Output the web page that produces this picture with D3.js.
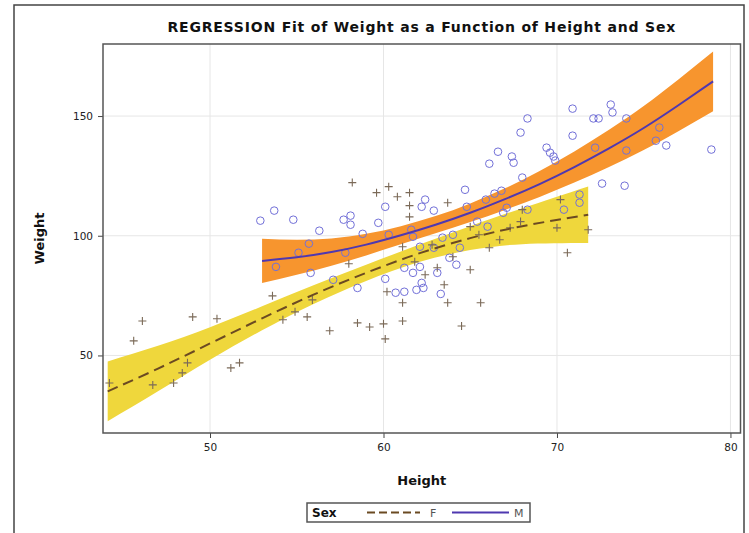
<!DOCTYPE html>
<html>
<head>
<meta charset="utf-8">
<script src="https://cdn.jsdelivr.net/npm/d3@7"></script>
<style>
  body { margin: 0; background: #fff; }
  svg { font-family: "DejaVu Sans", Verdana, sans-serif; }
  .grid line { stroke: #e6e6e6; stroke-width: 1; }
</style>
</head>
<body>
<svg id="chart" width="749" height="533"></svg>
<script>
// fit curves
const mX = [53, 55, 57, 59, 61, 63, 65, 67, 69, 71, 73, 75, 77, 79];
const mFit = [89.5, 91, 93.2, 96.3, 100.2, 104.6, 109.6, 115.3, 121.6, 128.7, 136.5, 145, 154.5, 164.5];
const mLo = [80.3, 83.7, 87.5, 91.8, 96.4, 101.0, 105.7, 110.8, 116.2, 122.2, 128.7, 135.8, 143.7, 152.0];
const mHi = [98.7, 98.3, 98.9, 100.8, 104.0, 108.2, 113.5, 119.8, 127.0, 135.2, 144.3, 154.2, 165.3, 177.0];

const fX = [44.1, 47, 50, 53, 56, 59, 62, 65, 68, 71.8];
const fFit = [35, 44.5, 55, 65.5, 75.5, 84.5, 92.5, 99, 104, 108.8];
const fLo = [22.5, 35.0, 48.2, 60.5, 71.6, 81.1, 88.9, 94.0, 96.5, 97.0];
const fHi = [47.5, 54.0, 61.8, 70.5, 79.4, 87.9, 96.1, 104.0, 111.5, 120.6];

// observations [height, weight]
const females = [
  [44.2, 38.5], [45.6, 56.1], [46.1, 64.4], [46.7, 37.7], [47.9, 38.5], [48.4, 42.7], [48.7, 46.9],
  [49.0, 66.1], [50.4, 65.3], [51.2, 44.8], [51.7, 46.9], [53.6, 74.9], [54.2, 64.9], [54.9, 68.2],
  [55.6, 66.1], [55.9, 73.2], [56.9, 60.3], [58.0, 88.3], [58.5, 63.6], [59.2, 61.9], [60.0, 63.2],
  [60.1, 56.9], [61.1, 64.4], [60.2, 76.6], [61.1, 72.0], [58.2, 122.2], [59.6, 118.0], [60.3, 120.5],
  [60.8, 116.3], [61.5, 118.0], [61.5, 112.6], [61.5, 107.9], [63.7, 113.8], [68.0, 110.9], [70.2, 115.1],
  [70.0, 103.3], [71.8, 102.5], [67.9, 105.9], [63.7, 72.0], [65.6, 72.0], [64.5, 62.3], [70.6, 92.9],
  [66.1, 95.0], [64.0, 91.2], [61.1, 95.4], [65.0, 103.8], [61.8, 89.1], [62.4, 83.7], [63.1, 86.6],
  [63.5, 79.5], [65.0, 85.8], [62.8, 96.2], [65.5, 100.4], [66.7, 98.3], [67.3, 103.3]
];
const males = [
  [52.9, 106.3], [53.7, 110.5], [54.8, 106.7], [56.3, 102.1], [57.7, 106.7], [58.1, 108.4], [58.1, 104.6],
  [58.8, 100.8], [59.7, 105.4], [60.1, 112.1], [62.2, 112.1], [62.4, 115.1], [62.9, 110.5], [53.8, 87.0],
  [55.8, 84.5], [55.1, 92.9], [55.7, 96.7], [57.8, 92.9], [60.3, 100.4], [57.1, 81.6], [58.5, 78.2],
  [60.1, 82.0], [60.7, 76.2], [61.2, 76.6], [61.7, 84.5], [62.1, 87.0], [62.2, 80.3], [62.1, 95.4],
  [61.2, 86.6], [68.3, 149.0], [67.9, 143.1], [66.6, 135.1], [66.1, 130.1], [67.4, 133.1], [67.5, 130.5],
  [69.4, 136.8], [69.6, 134.7], [69.8, 133.1], [69.9, 131.4], [70.9, 153.1], [70.9, 141.8], [68.0, 124.3],
  [64.7, 119.2], [64.8, 112.1], [65.9, 115.1], [66.4, 117.6], [66.8, 118.8], [66.9, 109.6], [72.1, 149.0],
  [72.4, 149.0], [73.1, 154.8], [73.2, 151.5], [74.0, 149.0], [72.6, 121.8], [73.9, 120.9], [74.0, 135.6],
  [72.2, 136.8], [75.9, 145.2], [75.7, 139.7], [76.3, 137.7], [78.9, 136.0], [71.3, 117.2], [71.3, 113.8],
  [70.4, 110.9], [67.1, 111.7], [61.6, 102.5], [61.7, 99.6], [65.4, 105.9], [66.0, 103.8], [63.4, 99.2],
  [64.0, 100.4], [62.9, 95.0], [64.4, 95.0], [63.8, 90.8], [64.2, 87.9], [63.1, 84.5], [68.3, 110.9],
  [61.9, 77.4], [63.3, 75.7], [62.3, 78.2]
];

const xTicks = [50, 60, 70, 80];
const yTicks = [50, 100, 150];
const legendItems = ['F', 'M'];

const svg = d3.select('#chart');
const L = 103, R = 740.5, T = 44, B = 433;

const x = d3.scaleLinear().domain([43.83, 80.58]).range([L, R]);
const y = d3.scaleLinear().domain([17.6, 180.1]).range([B, T]);

// outer frame
svg.append('rect').attr('x', 14).attr('y', 5).attr('width', 730).attr('height', 560)
  .attr('fill', 'none').attr('stroke', '#444').attr('stroke-width', 1.5);

svg.append('text').attr('x', (L + R) / 2).attr('y', 32).attr('text-anchor', 'middle')
  .attr('font-size', 14).attr('font-weight', 'bold').attr('letter-spacing', 0.8).attr('fill', '#111')
  .text('REGRESSION Fit of Weight as a Function of Height and Sex');

// grid
const grid = svg.append('g').attr('class', 'grid');
grid.selectAll('.gx').data(xTicks).enter().append('line')
  .attr('x1', d => x(d)).attr('x2', d => x(d)).attr('y1', T).attr('y2', B);
grid.selectAll('.gy').data(yTicks).enter().append('line')
  .attr('x1', L).attr('x2', R).attr('y1', d => y(d)).attr('y2', d => y(d));

const plot = svg.append('g');
plot.append('clipPath').attr('id', 'clip').append('rect')
  .attr('x', L).attr('y', T).attr('width', R - L).attr('height', B - T);
const inner = plot.append('g').attr('clip-path', 'url(#clip)');

const band = (xs, lo, hi) => d3.area().curve(d3.curveNatural)
  .x((d, i) => x(xs[i])).y0((d, i) => y(lo[i])).y1((d, i) => y(hi[i]))(xs);
const fitLine = (xs, ys) => d3.line().curve(d3.curveNatural)
  .x((d, i) => x(xs[i])).y((d, i) => y(ys[i]))(xs);

inner.append('path').attr('d', band(fX, fLo, fHi)).attr('fill', '#efd73c');
inner.append('path').attr('d', band(mX, mLo, mHi)).attr('fill', '#f7952e');

// markers
inner.selectAll('.m').data(males).enter().append('circle')
  .attr('cx', d => x(d[0])).attr('cy', d => y(d[1])).attr('r', 3.8)
  .attr('fill', 'none').attr('stroke', '#7270d8').attr('stroke-width', 1);
inner.selectAll('.f').data(females).enter().append('path')
  .attr('d', d => `M${x(d[0]) - 4},${y(d[1])}h8M${x(d[0])},${y(d[1]) - 4}v8`)
  .attr('stroke', '#7b6a58').attr('stroke-width', 1.1).attr('fill', 'none');

inner.append('path').attr('d', fitLine(fX, fFit)).attr('fill', 'none')
  .attr('stroke', '#6b4a22').attr('stroke-width', 2).attr('stroke-dasharray', '11,6');
inner.append('path').attr('d', fitLine(mX, mFit)).attr('fill', 'none')
  .attr('stroke', '#4f38b0').attr('stroke-width', 2);

// axes
const xAxis = svg.append('g').attr('transform', `translate(0,${B})`)
  .call(d3.axisBottom(x).tickValues(xTicks).tickSize(5).tickPadding(6));
const yAxis = svg.append('g').attr('transform', `translate(${L},0)`)
  .call(d3.axisLeft(y).tickValues(yTicks).tickSize(5).tickPadding(5));
[xAxis, yAxis].forEach(a => {
  a.select('.domain').remove();
  a.selectAll('line').attr('stroke', '#444');
  a.selectAll('text').attr('font-size', 10.5).attr('fill', '#222')
    .attr('font-family', '"DejaVu Sans", Verdana, sans-serif');
});

svg.append('rect').attr('x', L).attr('y', T).attr('width', R - L).attr('height', B - T)
  .attr('fill', 'none').attr('stroke', '#555').attr('stroke-width', 1.5);

svg.append('text').attr('x', (L + R) / 2).attr('y', 485).attr('text-anchor', 'middle')
  .attr('font-size', 13).attr('font-weight', 'bold').attr('fill', '#111').text('Height');
svg.append('text').attr('transform', `translate(44,${(T + B) / 2}) rotate(-90)`)
  .attr('text-anchor', 'middle').attr('font-size', 13).attr('font-weight', 'bold')
  .attr('fill', '#111').text('Weight');

// legend
const lg = svg.append('g');
lg.append('rect').attr('x', 307).attr('y', 503).attr('width', 223).attr('height', 19)
  .attr('fill', '#fff').attr('stroke', '#555').attr('stroke-width', 1.5);
lg.append('text').attr('x', 312).attr('y', 517).attr('font-size', 12).attr('font-weight', 'bold')
  .attr('fill', '#111').text('Sex');
const sw = [
  { x1: 367, x2: 420, tx: 430, color: '#6b4a22', dash: '8,4' },
  { x1: 452, x2: 509, tx: 514, color: '#4f38b0', dash: null }
];
legendItems.forEach((k, i) => {
  const s = sw[i];
  lg.append('line').attr('x1', s.x1).attr('x2', s.x2).attr('y1', 512.5).attr('y2', 512.5)
    .attr('stroke', s.color).attr('stroke-width', 2).attr('stroke-dasharray', s.dash);
  lg.append('text').attr('x', s.tx).attr('y', 517).attr('font-size', 11).attr('fill', '#555').text(k);
});
</script>
</body>
</html>
